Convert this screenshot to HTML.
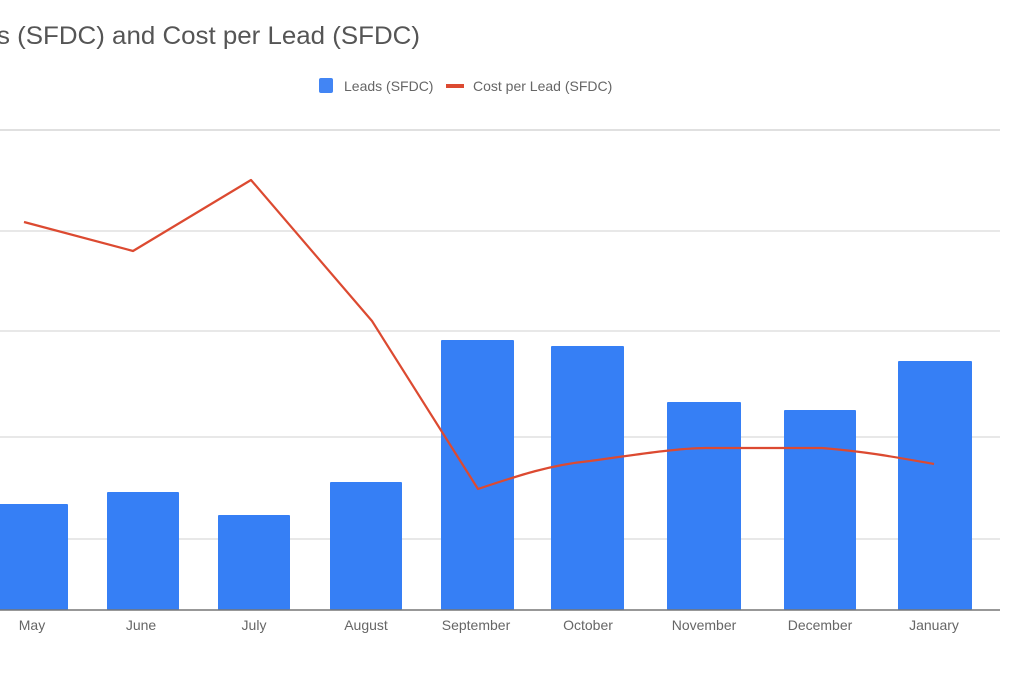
<!DOCTYPE html>
<html><head><style>
html,body{margin:0;padding:0;background:#fff;width:1024px;height:683px;overflow:hidden}
svg{display:block;font-family:"Liberation Sans",Roboto,sans-serif}
</style></head><body>
<svg width="1024" height="683" viewBox="0 0 1024 683">
<text x="-3" y="44" font-size="25" fill="#555" textLength="423" lengthAdjust="spacingAndGlyphs">s (SFDC) and Cost per Lead (SFDC)</text>
<rect x="319" y="78" width="14" height="15" rx="2" fill="#4285f4"/>
<text x="344" y="91" font-size="14" fill="#666">Leads (SFDC)</text>
<rect x="446" y="84" width="18" height="4" fill="#dc4a31"/>
<text x="473" y="91" font-size="14" fill="#666">Cost per Lead (SFDC)</text>
<g stroke="#e0e0e0" stroke-width="1.5">
<line x1="0" y1="130" x2="1000" y2="130" stroke-width="2"/>
<line x1="0" y1="231" x2="1000" y2="231"/>
<line x1="0" y1="331" x2="1000" y2="331"/>
<line x1="0" y1="437" x2="1000" y2="437"/>
<line x1="0" y1="539" x2="1000" y2="539"/>
</g>
<g fill="#367ff5">
<rect x="-2" y="504" width="70" height="106" rx="1"/>
<rect x="107" y="492" width="72" height="118" rx="1"/>
<rect x="218" y="515" width="72" height="95" rx="1"/>
<rect x="330" y="482" width="72" height="128" rx="1"/>
<rect x="441" y="340" width="73" height="270" rx="1"/>
<rect x="551" y="346" width="73" height="264" rx="1"/>
<rect x="667" y="402" width="74" height="208" rx="1"/>
<rect x="784" y="410" width="72" height="200" rx="1"/>
<rect x="898" y="361" width="74" height="249" rx="1"/>
</g>
<line x1="0" y1="610" x2="1000" y2="610" stroke="#777" stroke-width="1.5"/>
<path d="M24,222 L133,251 L251,180 L372,321 L478,489 C520,475 550,465 590,461 C640,454 680,448 706,448 L822,448 C870,452 900,458 934,464" fill="none" stroke="#dc4a31" stroke-width="2.2" stroke-linejoin="round"/>
<g font-size="14" fill="#666" text-anchor="middle">
<text x="32" y="630">May</text>
<text x="141" y="630">June</text>
<text x="254" y="630">July</text>
<text x="366" y="630">August</text>
<text x="476" y="630">September</text>
<text x="588" y="630">October</text>
<text x="704" y="630">November</text>
<text x="820" y="630">December</text>
<text x="934" y="630">January</text>
</g>
</svg>
</body></html>
